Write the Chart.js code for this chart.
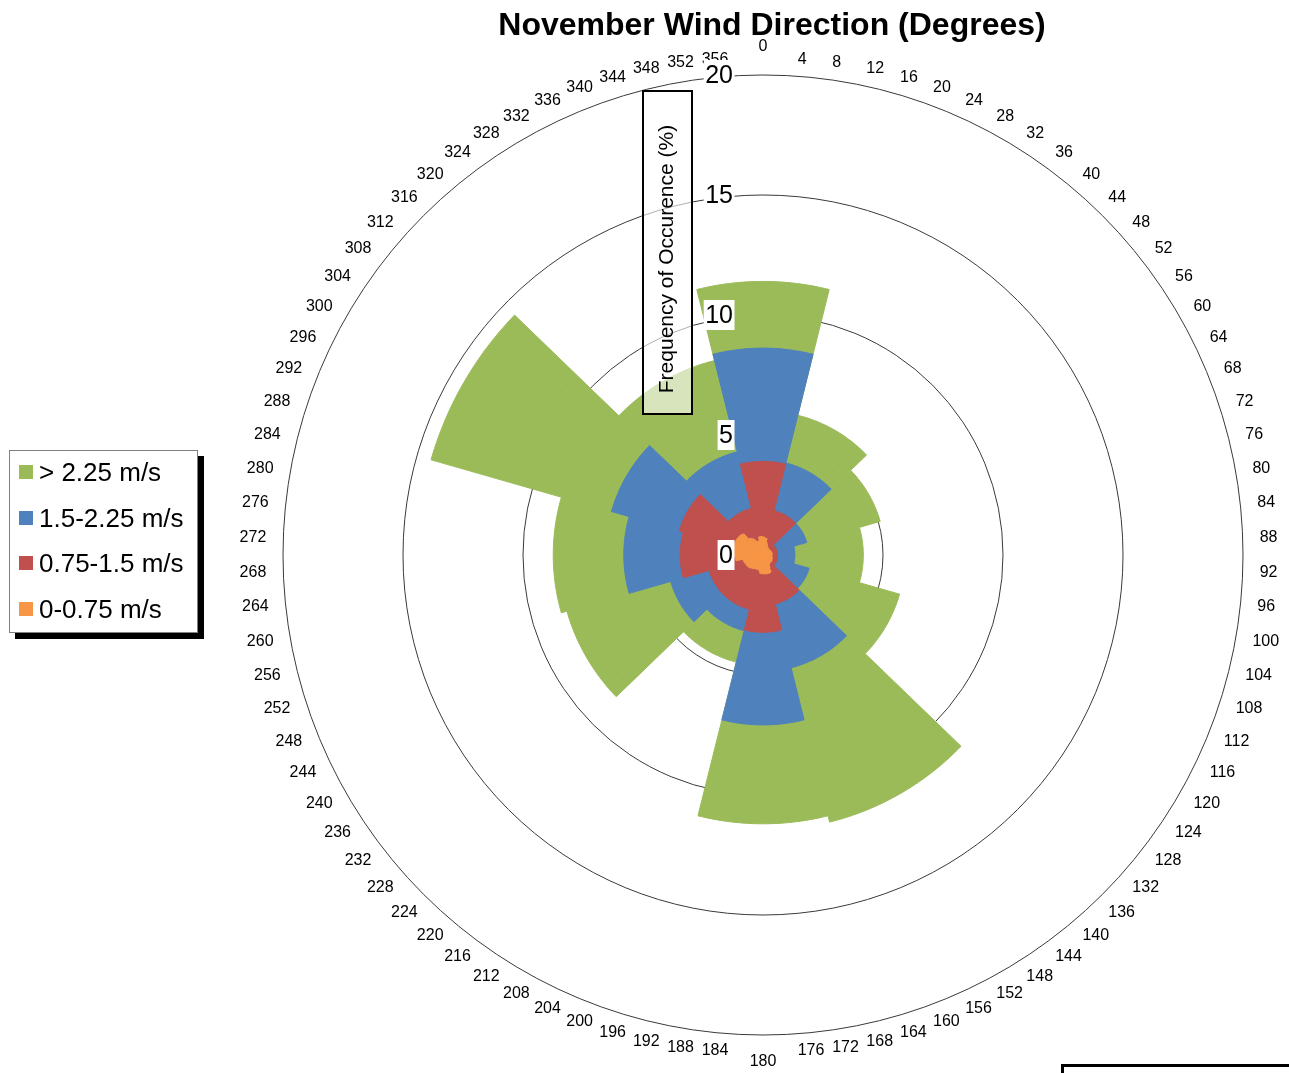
<!DOCTYPE html>
<html><head><meta charset="utf-8">
<script src="https://cdn.jsdelivr.net/npm/chart.js@4.4.1/dist/chart.umd.min.js"></script>
<style>
html,body{margin:0;padding:0;background:#fff;overflow:hidden;width:1289px;height:1073px;}
#wrap{position:absolute;left:0;top:0;width:1289px;height:1073px;}
canvas{display:block;}
#legend{position:absolute;left:9px;top:450px;width:189px;height:183px;box-sizing:border-box;border:1px solid #808080;background:#fff;box-shadow:6px 6px 0 #000;font-family:"Liberation Sans",Arial,sans-serif;font-size:26px;color:#000;}
.item{position:absolute;left:9px;height:30px;display:flex;align-items:center;white-space:nowrap;}
.sw{width:14px;height:14px;margin-right:6px;flex:none;}
#corner{position:absolute;left:1061px;top:1064px;width:260px;height:30px;border-top:3px solid #000;border-left:3px solid #000;}
</style></head><body>
<div id="wrap"><canvas id="c" width="1289" height="1073"></canvas></div>
<div id="legend"></div>
<div id="corner"></div>
<script>
// ---- data (cumulative frequency of occurrence, %) ----
const directionLabels = ['0','4','8','12','16','20','24','28','32','36','40','44','48','52','56','60','64','68','72','76','80','84','88','92','96','100','104','108','112','116','120','124','128','132','136','140','144','148','152','156','160','164','168','172','176','180','184','188','192','196','200','204','208','212','216','220','224','228','232','236','240','244','248','252','256','260','264','268','272','276','280','284','288','292','296','300','304','308','312','316','320','324','328','332','336','340','344','348','352','356'];

const windGt225 = [
  11.4, 11.4, 11.4, 11.4,
  6.0, 6.0, 6.0, 6.0, 6.0, 6.0, 6.0, 6.0,
  5.08, 5.08, 5.08, 5.08, 5.08, 5.08, 5.08,
  4.18, 4.18, 4.18, 4.18, 4.18, 4.18, 4.18, 4.18,
  5.92, 5.92, 5.92, 5.92, 5.92, 5.92, 5.92,
  11.47, 11.47, 11.47, 11.47, 11.47, 11.47, 11.47, 11.47,
  11.2, 11.2, 11.2, 11.2, 11.2, 11.2, 11.2,
  4.6, 4.6, 4.6, 4.6, 4.6, 4.6, 4.6, 4.6,
  8.5, 8.5, 8.5, 8.5, 8.5, 8.5, 8.5,
  8.74, 8.74, 8.74, 8.74, 8.74, 8.74, 8.74, 8.74,
  14.39, 14.39, 14.39, 14.39, 14.39, 14.39, 14.39,
  8.35, 8.35, 8.35, 8.35, 8.35, 8.35, 8.35, 8.35,
  11.4, 11.4, 11.4
];
const wind150to225 = [
  8.62, 8.62, 8.62, 8.62,
  3.95, 3.95, 3.95, 3.95, 3.95, 3.95, 3.95, 3.95,
  1.9, 1.9, 1.9, 1.9, 1.9, 1.9, 1.9,
  1.33, 1.33, 1.33, 1.33, 1.33, 1.33, 1.33, 1.33,
  2.0, 2.0, 2.0, 2.0, 2.0, 2.0, 2.0,
  4.84, 4.84, 4.84, 4.84, 4.84, 4.84, 4.84, 4.84,
  7.08, 7.08, 7.08, 7.08, 7.08, 7.08, 7.08,
  3.25, 3.25, 3.25, 3.25, 3.25, 3.25, 3.25, 3.25,
  4.0, 4.0, 4.0, 4.0, 4.0, 4.0, 4.0,
  5.8, 5.8, 5.8, 5.8, 5.8, 5.8, 5.8, 5.8,
  6.57, 6.57, 6.57, 6.57, 6.57, 6.57, 6.57,
  4.43, 4.43, 4.43, 4.43, 4.43, 4.43, 4.43, 4.43,
  8.62, 8.62, 8.62
];
const wind075to150 = [
  3.9, 3.9, 3.9, 3.9,
  1.9, 1.9, 1.9, 1.9, 1.9, 1.9, 1.9, 1.9,
  0.6, 0.6, 0.6, 0.6, 0.6, 0.6, 0.6,
  0.6, 0.6, 0.6, 0.6, 0.6, 0.6, 0.6, 0.6,
  0.62, 0.62, 0.62, 0.62, 0.62, 0.62, 0.62,
  2.1, 2.1, 2.1, 2.1, 2.1, 2.1, 2.1, 2.1,
  3.22, 3.22, 3.22, 3.22, 3.22, 3.22, 3.22,
  2.33, 2.33, 2.33, 2.33, 2.33, 2.33, 2.33, 2.33,
  2.33, 2.33, 2.33, 2.33, 2.33, 2.33, 2.33,
  3.45, 3.45, 3.45, 3.45, 3.45, 3.45, 3.45, 3.45,
  3.63, 3.63, 3.63, 3.63, 3.63, 3.63, 3.63,
  2.0, 2.0, 2.0, 2.0, 2.0, 2.0, 2.0, 2.0,
  3.9, 3.9, 3.9
];
const wind0to075 = [
  0.75, 0.75, 0.72, 0.7, 0.55, 0.5, 0.45, 0.4, 0.38, 0.36,
  0.35, 0.35, 0.34, 0.34, 0.36, 0.35, 0.38, 0.36, 0.37, 0.38,
  0.4, 0.38, 0.37, 0.38, 0.37, 0.37, 0.4, 0.42, 0.4, 0.42,
  0.43, 0.45, 0.44, 0.43, 0.45, 0.43, 0.45, 0.5, 0.6, 0.78,
  0.8, 0.8, 0.8, 0.8, 0.79, 0.78, 0.78, 0.78, 0.7, 0.6,
  0.65, 0.65, 0.66, 0.65, 0.7, 0.72, 0.75, 0.78, 0.78, 0.8,
  0.8, 0.82, 0.83, 0.85, 0.85, 1.15, 1.15, 1.18, 1.2, 1.2,
  1.22, 1.25, 1.27, 1.27, 1.28, 1.28, 1.27, 1.26, 1.25, 1.2,
  0.9, 0.85, 0.8, 0.7, 0.62, 0.6, 0.62, 0.77, 0.78, 0.78
];

const seriesNames = ['> 2.25 m/s', '1.5-2.25 m/s', '0.75-1.5 m/s', '0-0.75 m/s'];
const seriesColors = ['#9BBB59', '#4F81BD', '#C0504D', '#F79646'];
const radialTicks = [0, 5, 10, 15, 20];
const chartTitle = 'November Wind Direction (Degrees)';
const axisTitle = 'Frequency of Occurence (%)';

const FONT = '"Liberation Sans", Arial, sans-serif';

// ---- legend (HTML) ----
const legendEl = document.getElementById('legend');
const rowTops = [6, 52, 97, 143];
seriesNames.forEach((name, i) => {
  const it = document.createElement('div');
  it.className = 'item';
  it.style.top = rowTops[i] + 'px';
  const sw = document.createElement('span');
  sw.className = 'sw';
  sw.style.background = seriesColors[i];
  const tx = document.createElement('span');
  tx.textContent = name;
  it.appendChild(sw); it.appendChild(tx);
  legendEl.appendChild(it);
});

// ---- overlay plugin: labels, tick labels, titles ----
const overlay = {
  id: 'overlay',
  afterDatasetsDraw(chart) {
    const ctx = chart.ctx;
    const s = chart.scales.r;
    const n = chart.data.labels.length;
    ctx.save();
    // direction labels
    ctx.font = '16px ' + FONT;
    ctx.fillStyle = '#000';
    ctx.textBaseline = 'middle';
    chart.data.labels.forEach((lab, i) => {
      const p = s.getPointPosition(i, s.drawingArea + 17, Math.PI / n);
      const deg = Math.round((((p.angle + Math.PI / 2) * 180 / Math.PI) % 360 + 360) % 360);
      let y = p.y, align;
      if (deg === 0 || deg === 360) { align = 'center'; y -= 11; }
      else if (deg === 180) { align = 'center'; y += 10; }
      else align = deg < 180 ? 'left' : 'right';
      ctx.textAlign = align;
      ctx.fillText(lab, p.x, y);
    });
    // radial tick labels
    ctx.font = '25px ' + FONT;
    ctx.textAlign = 'right';
    s.ticks.forEach(t => {
      const y = s.yCenter - s.getDistanceFromCenterForValue(t.value);
      const txt = String(t.value);
      const w = ctx.measureText(txt).width;
      const xr = s.xCenter - 30;
      ctx.fillStyle = '#fff';
      ctx.fillRect(xr - w - 1.5, y - 15, w + 3, 30);
      ctx.fillStyle = '#000';
      ctx.fillText(txt, xr, y + 1);
    });
    // axis title box
    const bx = s.xCenter - 120, by = s.yCenter - 464, bw = 49, bh = 323;
    ctx.fillStyle = 'rgba(255,255,255,0.6)';
    ctx.fillRect(bx, by, bw, bh);
    ctx.strokeStyle = '#000';
    ctx.lineWidth = 2;
    ctx.strokeRect(bx, by, bw, bh);
    ctx.save();
    ctx.translate(bx + 24, by + 168);
    ctx.rotate(-Math.PI / 2);
    ctx.font = '21px ' + FONT;
    ctx.textAlign = 'center';
    ctx.fillStyle = '#000';
    ctx.fillText(axisTitle, 0, 0);
    ctx.restore();
    // chart title
    ctx.font = 'bold 32px ' + FONT;
    ctx.textAlign = 'center';
    ctx.fillStyle = '#000';
    ctx.fillText(chartTitle, 772, 26);
    ctx.restore();
  }
};

const datasets = [
  { label: seriesNames[3], data: wind0to075, backgroundColor: seriesColors[3], borderColor: seriesColors[3], borderWidth: 1 },
  { label: seriesNames[2], data: wind075to150, backgroundColor: seriesColors[2], borderColor: seriesColors[2], borderWidth: 1 },
  { label: seriesNames[1], data: wind150to225, backgroundColor: seriesColors[1], borderColor: seriesColors[1], borderWidth: 1 },
  { label: seriesNames[0], data: windGt225, backgroundColor: seriesColors[0], borderColor: seriesColors[0], borderWidth: 1 }
];

new Chart(document.getElementById('c'), {
  type: 'polarArea',
  data: { labels: directionLabels, datasets },
  options: {
    responsive: false,
    animation: false,
    events: [],
    layout: { padding: { left: 283, top: 75, right: 46, bottom: 38 } },
    plugins: { legend: { display: false }, tooltip: { enabled: false }, title: { display: false } },
    scales: {
      r: {
        min: 0, max: 20,
        startAngle: -2,
        afterBuildTicks: sc => { sc.ticks = radialTicks.map(v => ({ value: v })); },
        ticks: { display: false, stepSize: 5 },
        grid: { circular: true, color: '#3a3a3a', lineWidth: 1 },
        angleLines: { display: false },
        pointLabels: { display: false }
      }
    }
  },
  plugins: [overlay]
});
</script></body></html>
